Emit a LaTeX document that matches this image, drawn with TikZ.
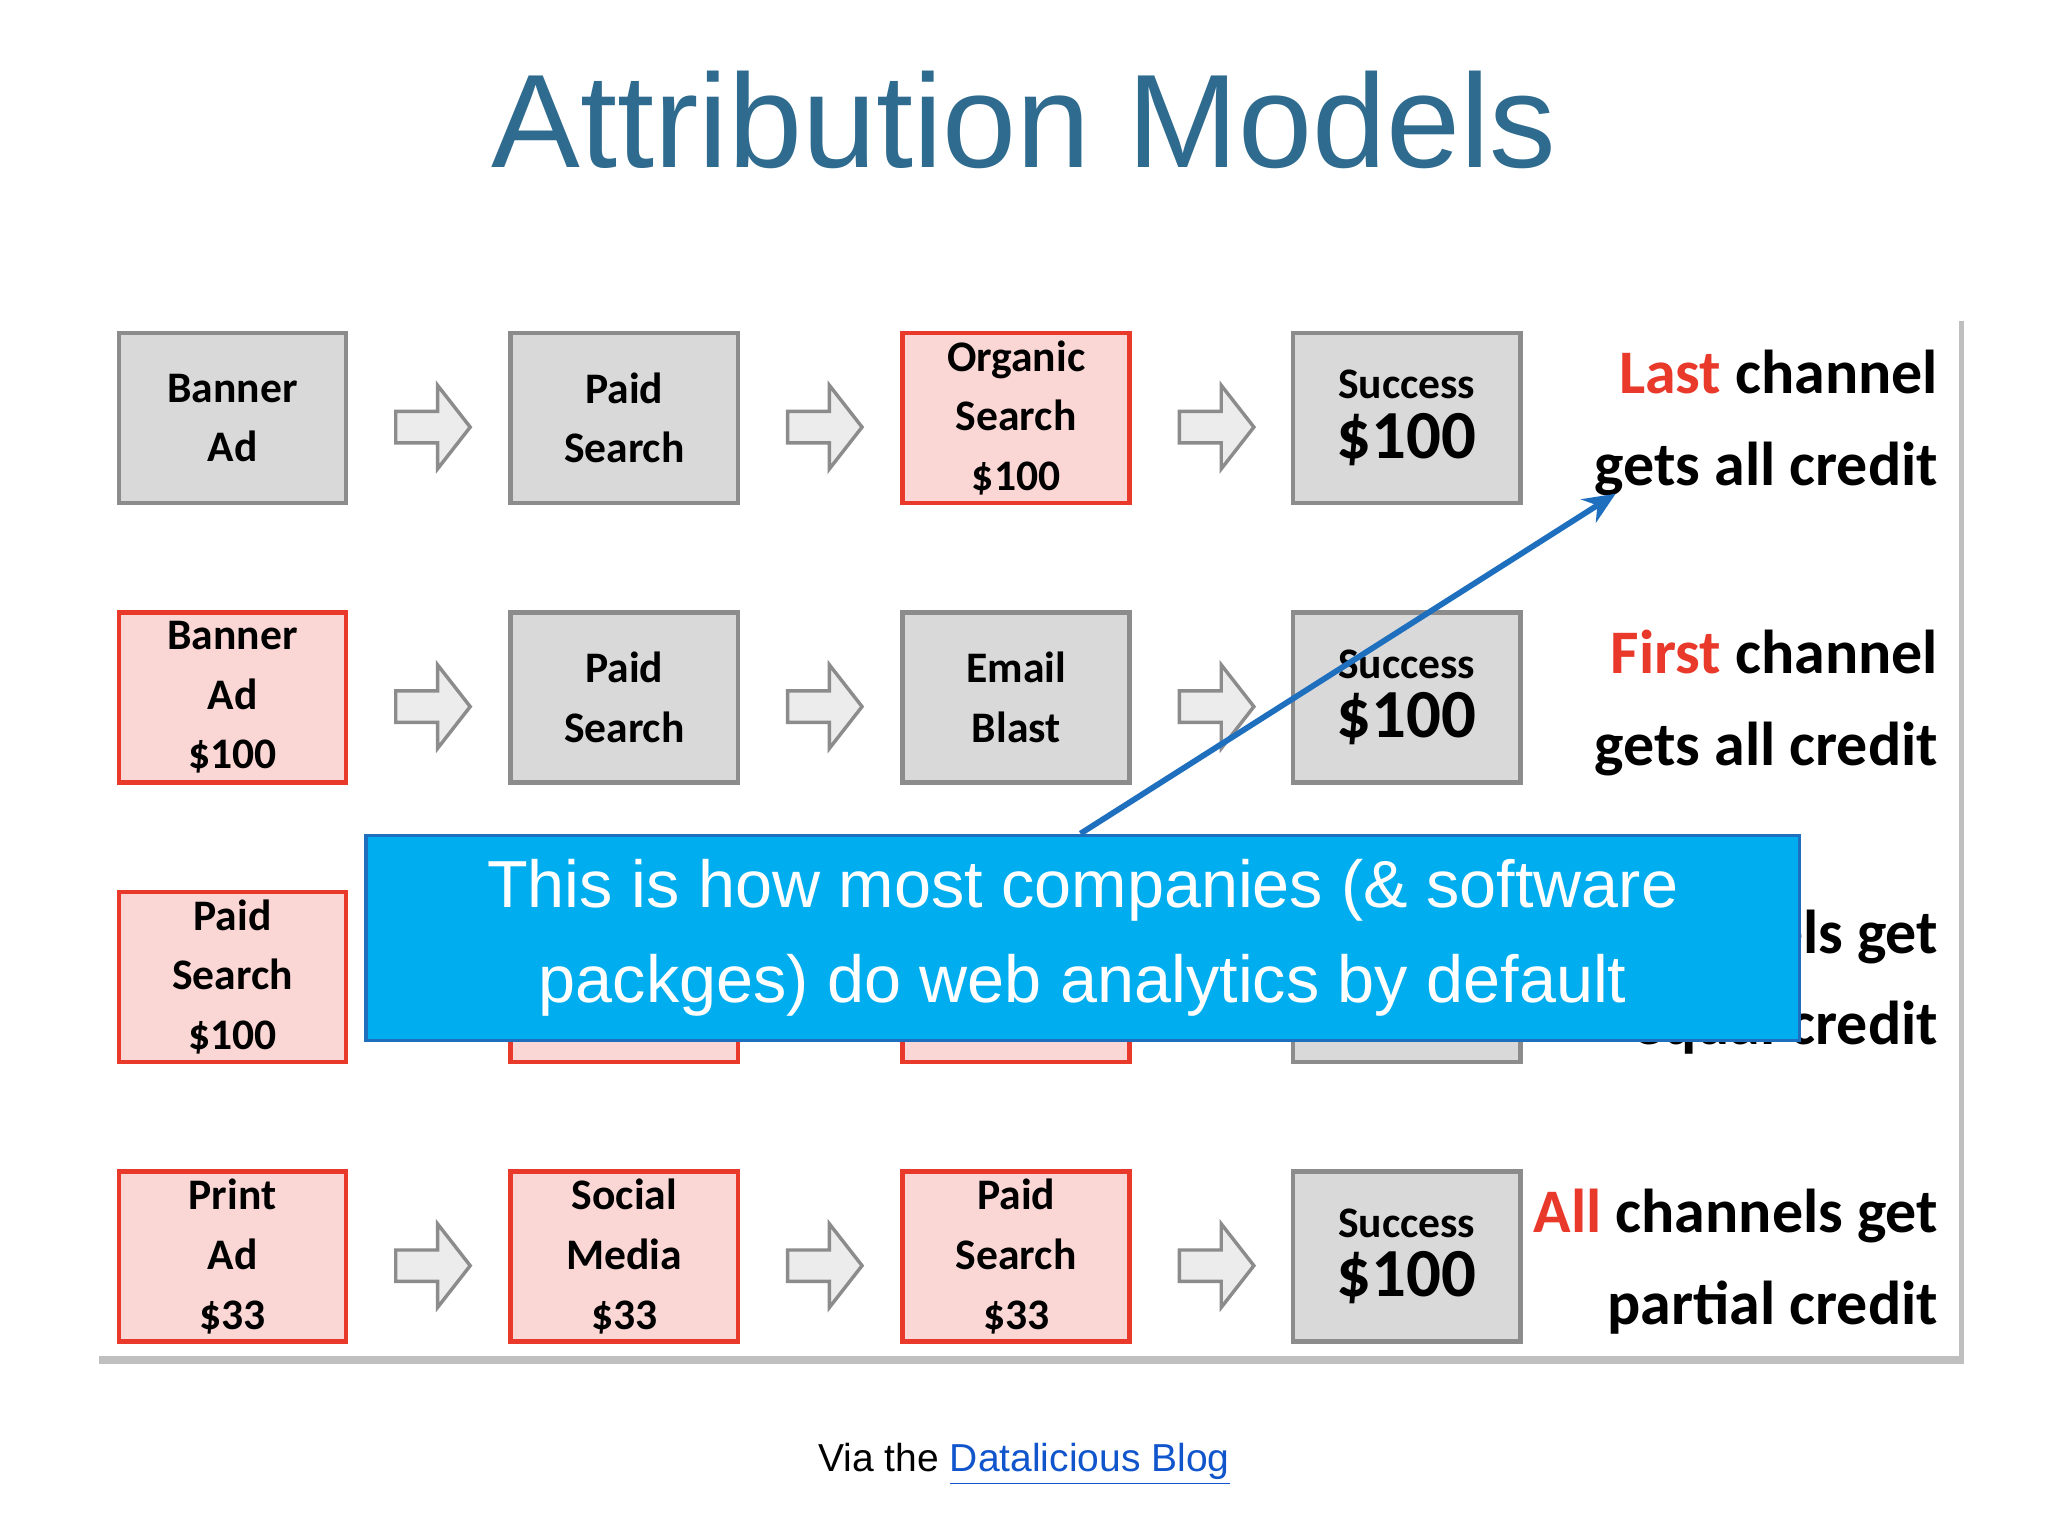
\documentclass[tikz,border=0pt]{standalone}
\usepackage{fontspec}
\usetikzlibrary{arrows.meta}
\setmainfont{Liberation Sans}
\newfontfamily\carfont{Carlito}
\definecolor{titleblue}{RGB}{46,107,142}
\definecolor{gfill}{RGB}{217,217,217}
\definecolor{gline}{RGB}{140,140,140}
\definecolor{rfill}{RGB}{250,215,212}
\definecolor{rline}{RGB}{232,57,42}
\definecolor{cyanbox}{RGB}{0,174,239}
\definecolor{arrblue}{RGB}{31,111,191}
\definecolor{linkblue}{RGB}{17,85,204}
\begin{document}
\begin{tikzpicture}[x=0.02cm,y=-0.02cm,
 gbox/.style={draw=gline,fill=gfill,line width=2pt,minimum width=3.48cm,minimum height=2.6cm,align=center,font=\carfont\bfseries\fontsize{19}{26}\selectfont},
 rbox/.style={gbox,draw=rline,fill=rfill},
 side/.style={anchor=east,align=right,font=\carfont\bfseries\fontsize{27}{40}\selectfont},
 harrow/.style={draw=gline,fill=gfill!50,line width=1.5pt}]
\useasboundingbox (0,0) rectangle (1568,1176);
\fill[white] (0,0) rectangle (1568,1176);
\node[font=\fontsize{58}{60}\selectfont,text=titleblue] (title) at (784,92) {Attribution Models};
% panel with shadow
\fill[black!25] (76,246) rectangle (1504,1044);
\fill[white] (70,240) rectangle (1500,1038);
\newcommand\harr[2]{\draw[harrow] (#1-27,#2-12) -- (#1+5,#2-12) -- (#1+5,#2-32) -- (#1+30,#2) -- (#1+5,#2+32) -- (#1+5,#2+12) -- (#1-27,#2+12) -- cycle;}
% row 1
\node[gbox] (a1) at (178,320) {Banner\\Ad};
\node[gbox] (b1) at (478,320) {Paid\\Search};
\node[rbox] (c1) at (778,320) {Organic\\Search\\\$100};
\node[gbox] (d1) at (1077,320) {Success\\{\fontsize{30}{34}\selectfont\$100}};
\node[side] (t1) at (1490,324) {\textcolor{rline}{Last} channel\\gets all credit};
% row 2
\node[rbox] (a2) at (178,534) {Banner\\Ad\\\$100};
\node[gbox] (b2) at (478,534) {Paid\\Search};
\node[gbox] (c2) at (778,534) {Email\\Blast};
\node[gbox] (d2) at (1077,534) {Success\\{\fontsize{30}{34}\selectfont\$100}};
\node[side] (t2) at (1490,538) {\textcolor{rline}{First} channel\\gets all credit};
% row 3
\node[rbox] (a3) at (178,748) {Paid\\Search\\\$100};
\node[rbox] (b3) at (478,748) {};
\node[rbox] (c3) at (778,748) {};
\node[gbox] (d3) at (1077,748) {};
\node[side] (t3) at (1490,752) {All channels get\\equal credit};
% row 4
\node[rbox] (a4) at (178,962) {Print\\Ad\\\$33};
\node[rbox] (b4) at (478,962) {Social\\Media\\\$33};
\node[rbox] (c4) at (778,962) {Paid\\Search\\\$33};
\node[gbox] (d4) at (1077,962) {Success\\{\fontsize{30}{34}\selectfont\$100}};
\node[side] (t4) at (1490,966) {\textcolor{rline}{All} channels get\\partial credit};
\foreach \y in {327,541,755,969}{\foreach \x in {330,630,930}{\harr{\x}{\y}}}
% callout
\node[draw=arrblue,fill=cyanbox,line width=1.5pt,minimum width=21.96cm,minimum height=3.14cm,align=center,text=white,font=\fontsize{29}{41}\selectfont] (call) at (829,718) {This is how most companies (\& software\\packges) do web analytics by default};
\coordinate (tip) at (1237,378);
\draw[arrblue,line width=2.5pt,-{Stealth[length=14pt,width=12pt]}] ([xshift=-1pt]call.north) -- (tip);
\node[font=\fontsize{17}{20}\selectfont] (foot) at (784,1121) {Via the \textcolor{linkblue}{\underline{Datalicious Blog}}};
\end{tikzpicture}
\end{document}
